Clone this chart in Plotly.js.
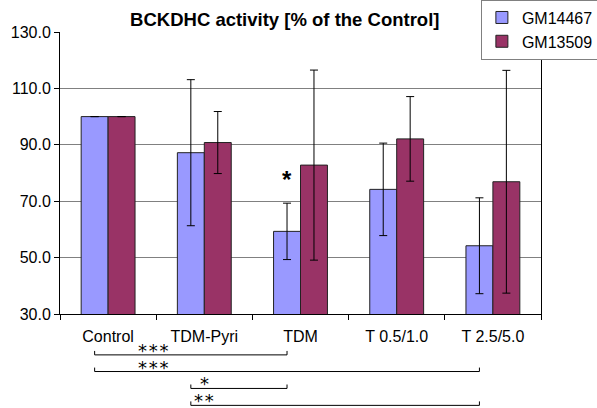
<!DOCTYPE html>
<html>
<head>
<meta charset="utf-8">
<script src="https://cdn.plot.ly/plotly-3.0.1.min.js"></script>
<style>html,body{margin:0;padding:0;background:#fff;}#chart{width:597px;height:408px;}</style>
</head>
<body>
<div id="chart"></div>
<script>
// ---- data ----
const categories = ['Control', 'TDM-Pyri', 'TDM', 'T 0.5/1.0', 'T 2.5/5.0'];
const seriesNames = ['GM14467', 'GM13509'];
const gm14467 = [100, 87.2, 59.3, 74.2, 54.2];
const gm14467Err = [0, 25.9, 10.0, 16.4, 17.0];
const gm13509 = [100, 90.8, 82.8, 92.1, 76.9];
const gm13509Err = [0, 11.0, 33.7, 15.0, 39.5];
// significance comparisons (category index from -> to) and their labels
const compFrom = [0, 0, 1, 1];
const compTo = [2, 4, 2, 4];
const compLabels = ['***', '***', '*', '**'];
// single marked bar (series 0 at TDM)
const markCategory = 2;
const markLabel = '*';

// ---- style / layout config ----
const FONT = 'Liberation Sans, Arial, sans-serif';
const STAR_FONT = 'DejaVu Sans, sans-serif';
const blueOffset = -0.14;          // centre of first bar within group, in category units
const bracketY = [-0.145, -0.204, -0.264, -0.324]; // paper units
const labelDx = [0.47, 0.47, 0.0, 0.0];   // label position relative to "from" category
const tickUp = 0.014;
const spaced = s => s.split('').join('\u200A');

const errStyle = {type: 'data', symmetric: true, visible: true, color: '#000', thickness: 1, width: 4};

const traces = [
  {type: 'bar', name: seriesNames[0], x: categories, y: gm14467,
   marker: {color: '#9999FF', line: {color: '#222', width: 1}},
   error_y: Object.assign({array: gm14467Err}, errStyle)},
  {type: 'bar', name: seriesNames[1], x: categories, y: gm13509,
   marker: {color: '#993366', line: {color: '#222', width: 1}},
   error_y: Object.assign({array: gm13509Err}, errStyle)}
];

const shapes = [];
const annotations = [];
for (let i = 0; i < compFrom.length; i++) {
  const x0 = compFrom[i] + blueOffset, x1 = compTo[i] + blueOffset, y = bracketY[i];
  shapes.push({type: 'path', xref: 'x', yref: 'paper',
    path: `M ${x0},${y + tickUp} L ${x0},${y} L ${x1},${y} L ${x1},${y + tickUp}`,
    line: {color: '#000', width: 1}});
  annotations.push({xref: 'x', yref: 'paper', x: compFrom[i] + labelDx[i], y: y,
    text: spaced(compLabels[i]), showarrow: false, xanchor: 'center', yanchor: 'bottom', yshift: -8,
    font: {family: STAR_FONT, size: 18, color: '#000'}});
}
annotations.push({xref: 'x', yref: 'y', x: markCategory + blueOffset,
  y: gm14467[markCategory] + gm14467Err[markCategory], yshift: 8,
  text: '<b>' + markLabel + '</b>', showarrow: false, xanchor: 'center', yanchor: 'bottom',
  font: {family: FONT, size: 24, color: '#000'}});

const layout = {
  width: 597, height: 408,
  margin: {l: 60, r: 56, t: 32, b: 94, autoexpand: false},
  paper_bgcolor: '#fff', plot_bgcolor: '#fff',
  font: {family: FONT, size: 16, color: '#000'},
  title: {text: '<b>BCKDHC activity [% of the Control]</b>', font: {family: FONT, size: 18.5, color: '#000'},
          xref: 'container', yref: 'container', x: 0.477, y: 0.953, xanchor: 'center', yanchor: 'middle'},
  barmode: 'group', bargap: 0.44, bargroupgap: 0,
  showlegend: true,
  legend: {x: 0.875, y: 1.115, xanchor: 'left', yanchor: 'top', xref: 'paper', yref: 'paper',
           bgcolor: '#fff', bordercolor: '#808080', borderwidth: 1,
           font: {family: FONT, size: 16, color: '#000'}, tracegroupgap: 0},
  xaxis: {type: 'category', showline: true, linecolor: '#000', linewidth: 1, mirror: false,
          ticks: 'outside', tickson: 'boundaries', ticklen: 5, tickcolor: '#000',
          ticklabelstandoff: 8,
          showgrid: false, zeroline: false, fixedrange: true,
          tickfont: {family: FONT, size: 16, color: '#000'}},
  yaxis: {range: [30, 130], tick0: 30, dtick: 20, tickformat: '.1f',
          showline: true, linecolor: '#000', linewidth: 1, mirror: true,
          ticks: 'outside', ticklen: 5, tickcolor: '#000',
          showgrid: true, gridcolor: '#808080', gridwidth: 1, zeroline: false,
          tickfont: {family: FONT, size: 16, color: '#000'}},
  shapes: shapes,
  annotations: annotations
};

Plotly.newPlot('chart', traces, layout, {displayModeBar: false, staticPlot: true});
</script>
</body>
</html>
